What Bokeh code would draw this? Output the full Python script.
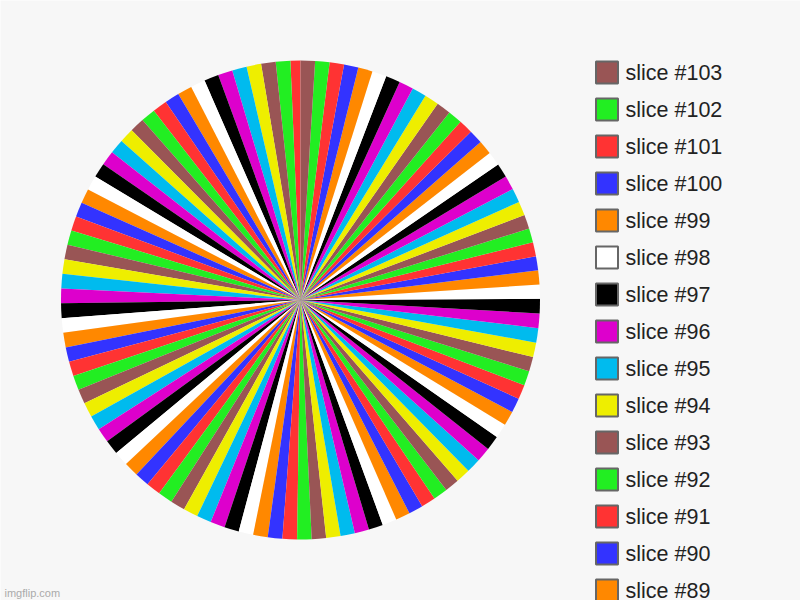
import math
from bokeh.plotting import figure
from bokeh.models import ColumnDataSource, Range1d
from bokeh.core.properties import value
from bokeh.embed import file_html
from bokeh.resources import INLINE

# ---- data (slice sizes, in units of ~3.5 degrees) ----
slice_numbers = list(range(1, 104))
slice_labels = ["slice #%d" % n for n in slice_numbers]
slice_values = [
    0.69,                                                             # 1
    1.01, 1.01, 1.01, 1.01, 1.01, 1.01, 1.01, 1.01, 1.01, 1.01,       # 2-11
    1.01, 1.01, 1.01, 1.01, 1.01, 1.01, 1.01, 1.01, 1.01, 1.01,       # 12-21
    1.01, 1.01, 1.01, 1.01, 1.01,                                     # 22-26
    1.01, 1.01, 1.01, 1.01, 1.01, 1.01, 1.01, 1.01, 1.01, 1.01,       # 27-36
    1.01, 1.01, 1.01, 1.01, 1.01, 1.01, 1.01, 1.01, 1.01, 1.01,       # 37-46
    1.01, 1.01, 1.01, 1.01, 1.01,                                     # 47-51
    0.995, 0.995, 0.995, 0.995, 0.995, 0.995, 0.995, 0.995, 0.995,    # 52-60
    0.995, 0.995, 0.995,                                              # 61-63
    1.006, 1.006, 1.006, 1.006, 1.006, 1.006, 1.006, 1.006, 1.006,    # 64-72
    1.006, 1.006, 1.006, 1.006, 1.006,                                # 73-77
    0.975, 0.975, 0.975, 0.975, 0.975, 0.975, 0.975, 0.975, 0.975,    # 78-86
    0.975, 0.975, 0.975, 0.975, 0.975,                                # 87-91
    0.998, 0.998, 0.998, 0.998, 0.998, 0.998, 0.998, 0.998, 0.998,    # 92-100
    0.998, 0.998, 0.998,                                              # 101-103
]
legend_shown = [103, 102, 101, 100, 99, 98, 97, 96, 95, 94, 93, 92, 91, 90, 89]

# palette cycle indexed by slice number mod 10
palette = ["#3333FF", "#FF3333", "#22EE22", "#995555", "#EEEE00",
           "#00BBEE", "#DD00CC", "#000000", "#FFFFFF", "#FF8800"]

# ---- layout ----
W, H = 800, 600
BG = "#F7F7F7"

p = figure(width=W, height=H, output_backend="svg", toolbar_location=None,
           x_range=Range1d(0, W), y_range=Range1d(0, H),
           x_axis_type=None, y_axis_type=None, min_border=0,
           background_fill_color=BG, border_fill_color=BG,
           outline_line_color=None)

cx, cy, r = 300, H - 299.5, 239.5
total = sum(slice_values)
starts, ends, colors = [], [], []
acc = 0.0
for n, v in zip(slice_numbers, slice_values):
    a0 = math.pi / 2 + 2 * math.pi * acc / total
    acc += v
    a1 = math.pi / 2 + 2 * math.pi * acc / total
    starts.append(a0)
    ends.append(a1)
    colors.append(palette[n % 10])

src = ColumnDataSource(dict(x=[cx] * len(slice_values), y=[cy] * len(slice_values),
                            start=starts, end=ends, color=colors,
                            label=slice_labels, val=slice_values))
p.wedge(x="x", y="y", radius=r, start_angle="start", end_angle="end",
        fill_color="color", line_color=None, source=src)

# ---- legend ----
lx_sw = 606.5
lx_tx = 625
ly = [H - (72 + 37 * k) for k in range(len(legend_shown))]
lsrc = ColumnDataSource(dict(
    x=[lx_sw] * len(legend_shown), y=ly,
    tx=[lx_tx] * len(legend_shown),
    color=[palette[n % 10] for n in legend_shown],
    text=["slice #%d" % n for n in legend_shown]))
p.rect(x="x", y="y", width=22, height=22, fill_color="color",
       line_color="#666666", line_width=2, source=lsrc)
p.text(x="tx", y="y", text="text", text_font=value("Liberation Sans"),
       text_font_size="21.5px", text_color="#222222", text_baseline="middle",
       text_align="left", source=lsrc)

# watermark
p.text(x=[4], y=[2], text=["imgflip.com"], text_font=value("Liberation Sans"),
       text_font_size="11px", text_color="#AAAAAA", text_baseline="bottom",
       text_align="left")

open("out.html", "w").write(file_html(p, INLINE))
